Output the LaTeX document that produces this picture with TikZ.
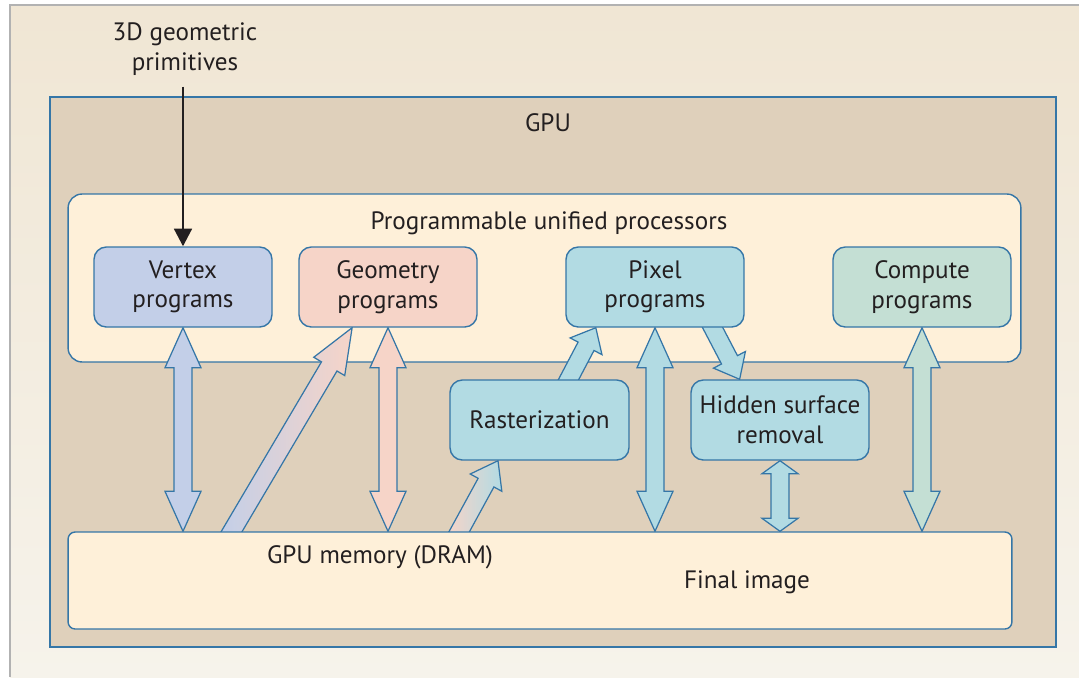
\documentclass[tikz,border=0pt]{standalone}
\usepackage{fontspec}
\setmainfont{PT Sans}
\usetikzlibrary{calc,arrows.meta}

\definecolor{edgeblue}{RGB}{53,118,167}
\definecolor{textdark}{RGB}{35,31,32}
\definecolor{paneltop}{RGB}{240,230,212}
\definecolor{panelbot}{RGB}{246,243,235}
\definecolor{gpufill}{RGB}{223,208,187}
\definecolor{procfill}{RGB}{254,240,217}
\definecolor{vertexfill}{RGB}{195,207,232}
\definecolor{geomfill}{RGB}{246,212,200}
\definecolor{pixelfill}{RGB}{178,219,227}
\definecolor{computefill}{RGB}{196,223,212}

\pgfdeclarelayer{back}
\pgfdeclarelayer{pipes}
\pgfsetlayers{back,pipes,main}

% fat arrow: #1 tail, #2 tip, #3 head length, #4 fill
\newcommand{\fatarrow}[4]{%
  \coordinate (fa-c) at ($(#2)!#3!(#1)$);
  \draw[edgeblue, line width=0.7pt, #4]
    ($(#1)!0.18cm!90:(#2)$) -- ($(fa-c)!0.18cm!-90:(#1)$) -- ($(fa-c)!0.36cm!-90:(#1)$)
    -- (#2) -- ($(fa-c)!0.36cm!90:(#1)$) -- ($(fa-c)!0.18cm!90:(#1)$)
    -- ($(#1)!0.18cm!-90:(#2)$) -- cycle;
}
% fat double arrow: #1 and #2 tips, #3 head length, #4 fill
\newcommand{\fatdarrow}[4]{%
  \coordinate (fa-a) at ($(#1)!#3!(#2)$);
  \coordinate (fa-b) at ($(#2)!#3!(#1)$);
  \draw[edgeblue, line width=0.7pt, #4]
    (#1) -- ($(fa-a)!0.36cm!90:(#2)$) -- ($(fa-a)!0.18cm!90:(#2)$)
    -- ($(fa-b)!0.18cm!-90:(#1)$) -- ($(fa-b)!0.36cm!-90:(#1)$) -- (#2)
    -- ($(fa-b)!0.36cm!90:(#1)$) -- ($(fa-b)!0.18cm!90:(#1)$)
    -- ($(fa-a)!0.18cm!-90:(#2)$) -- ($(fa-a)!0.36cm!-90:(#2)$) -- cycle;
}

\tikzset{
  unit/.style={draw=edgeblue, line width=0.8pt, rounded corners=7pt,
    minimum width=3.56cm, minimum height=1.6cm, align=center,
    text=textdark, font=\fontsize{14.3}{16.8}\selectfont},
  plaintext/.style={text=textdark, font=\fontsize{14.3}{16.8}\selectfont, align=center},
}

\begin{document}
\begin{tikzpicture}[x=0.02cm, y=-0.02cm]
  \useasboundingbox (0,0) rectangle (1079,677);

  \begin{pgfonlayer}{back}
    % page
    \shade[top color=paneltop, bottom color=panelbot] (10,5) rectangle (1079,677);
    \draw[black!30, line width=1.2pt] (10,677) -- (10,5) -- (1079,5);
    % frames
    \node[draw=edgeblue, fill=gpufill, line width=0.8pt, minimum width=20.12cm, minimum height=11cm] (gpu) at (553,372) {};
    \node[draw=edgeblue, fill=procfill, line width=0.8pt, rounded corners=8pt, minimum width=19.06cm, minimum height=3.36cm] (procs) at (544.5,278) {};
  \end{pgfonlayer}

  \node[plaintext] (gpulabel) at (548,123) {GPU};
  \node[plaintext] (procslabel) at (549,223) {Programmable unified processors};

  % programs
  \node[unit, fill=vertexfill] (vertex) at (183,287) {Vertex\\programs};
  \node[unit, fill=geomfill] (geometry) at (388,287) {Geometry\\programs};
  \node[unit, fill=pixelfill] (pixel) at (655,287) {Pixel\\programs};
  \node[unit, fill=computefill] (compute) at (922,287) {Compute\\programs};

  \node[unit, fill=pixelfill, minimum width=3.58cm] (raster) at (539.5,420) {Rasterization};
  \node[unit, fill=pixelfill] (hidden) at (780,420) {Hidden surface\\removal};

  % memory
  \node[unit, fill=procfill, rounded corners=4pt, minimum width=18.88cm, minimum height=1.94cm] (memory) at (540,580.5) {};
  \node[plaintext] (dram) at (380,557) {GPU memory (DRAM)};
  \node[plaintext] (final) at (747,582) {Final image};

  % input
  \node[plaintext] (prims) at (185,49) {3D geometric\\primitives};
  \draw[textdark, line width=1.6pt, shorten <=3pt, -{Triangle[length=10pt, width=10pt]}]
    (vertex.north |- prims.south) -- (vertex.north);

  % pipe ends
  \coordinate (vm) at (vertex.south |- memory.north);
  \coordinate (gm) at (geometry.south |- memory.north);
  \coordinate (pm) at (pixel.south |- memory.north);
  \coordinate (cm) at (compute.south |- memory.north);
  \coordinate (hm) at (hidden.south |- memory.north);
  \coordinate (m2g) at ([xshift=3.2cm, yshift=-0.15cm]memory.north west);
  \coordinate (g-in) at ($(geometry.south west)!0.3!(geometry.south east)$);
  \coordinate (m2r) at ([xshift=7.76cm, yshift=-0.15cm]memory.north west);
  \coordinate (r-in) at ($(raster.south west)!0.27!(raster.south east)$);
  \coordinate (r-out) at ([yshift=-0.15cm]$(raster.north west)!0.64!(raster.north east)$);
  \coordinate (p-in) at ($(pixel.south west)!0.17!(pixel.south east)$);
  \coordinate (p-out) at ([yshift=0.15cm]$(pixel.south west)!0.8!(pixel.south east)$);
  \coordinate (h-in) at ($(hidden.north west)!0.275!(hidden.north east)$);

  \begin{pgfonlayer}{pipes}
    \fatdarrow{vertex.south}{vm}{0.8cm}{fill=vertexfill}
    \fatdarrow{geometry.south}{gm}{0.8cm}{fill=geomfill}
    \fatdarrow{pixel.south}{pm}{0.8cm}{fill=pixelfill}
    \fatdarrow{compute.south}{cm}{0.8cm}{fill=computefill}
    \fatdarrow{hidden.south}{hm}{0.26cm}{fill=pixelfill}
    \fatarrow{m2g}{g-in}{0.9cm}{left color=vertexfill, right color=geomfill}
    \fatarrow{m2r}{r-in}{0.5cm}{left color=geomfill, right color=pixelfill}
    \fatarrow{r-out}{p-in}{0.42cm}{fill=pixelfill}
    \fatarrow{p-out}{h-in}{0.44cm}{fill=pixelfill}
  \end{pgfonlayer}
\end{tikzpicture}
\end{document}
